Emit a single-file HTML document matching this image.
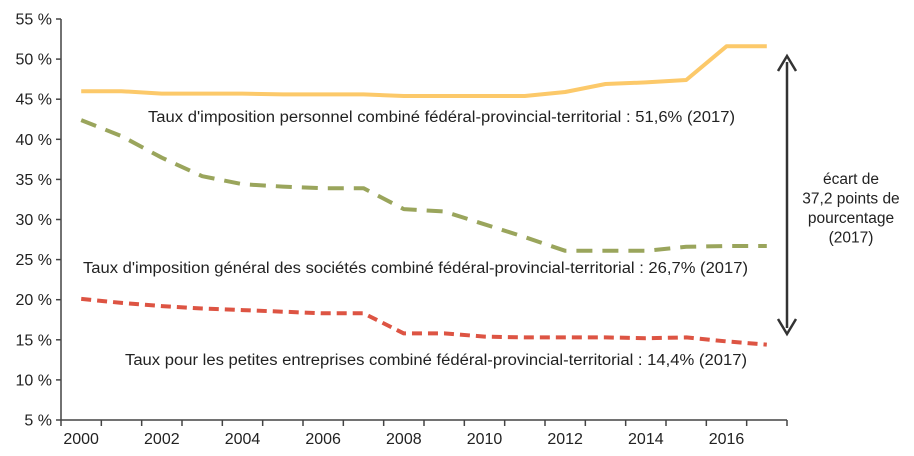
<!DOCTYPE html>
<html><head><meta charset="utf-8"><style>
html,body{margin:0;padding:0;background:#fff;}
svg{display:block;font-family:"Liberation Sans",Arial,sans-serif;}
</style></head><body>
<svg id="chart" width="914" height="456" viewBox="0 0 914 456"></svg>
<script>
const years=[2000,2001,2002,2003,2004,2005,2006,2007,2008,2009,2010,2011,2012,2013,2014,2015,2016,2017];
const personal=[46.0,46.0,45.7,45.7,45.7,45.6,45.6,45.6,45.4,45.4,45.4,45.4,45.9,46.9,47.1,47.4,51.6,51.6];
const corporate=[42.4,40.4,37.7,35.4,34.4,34.1,33.9,33.9,31.3,31.0,29.4,27.8,26.1,26.1,26.1,26.6,26.7,26.7];
const small=[20.1,19.6,19.2,18.9,18.7,18.5,18.3,18.3,15.8,15.8,15.4,15.3,15.3,15.3,15.2,15.3,14.8,14.4];
const yTicks=[5,10,15,20,25,30,35,40,45,50,55];
const xLabels=[2000,2002,2004,2006,2008,2010,2012,2014,2016];

const NS="http://www.w3.org/2000/svg";
const svg=document.getElementById('chart');
const x0=61,x1=787,y0=420,y1=19;
const band=(x1-x0)/years.length;
function xs(i){return x0+band*(i+0.5);}
function ys(v){return y0-(v-5)/(55-5)*(y0-y1);}
function mk(t,a){const e=document.createElementNS(NS,t);for(const k in a)e.setAttribute(k,a[k]);svg.appendChild(e);return e;}

let ax=mk('line',{x1:x0,y1:y1,x2:x0,y2:y0,stroke:'#444','stroke-width':1.5});


let bx=mk('line',{x1:x0,y1:y0,x2:x1,y2:y0,stroke:'#444','stroke-width':1.5});



yTicks.forEach(v=>{
  const y=ys(v);
  let t=mk('line',{x1:x0-5,y1:y,x2:x0,y2:y,stroke:'#444','stroke-width':1.5});
  
  
  let l=mk('text',{x:x0-9,y:y+5.5,'text-anchor':'end','font-size':16,fill:'#222'});
  l.textContent=v+' %';
  
  
});
for(let i=0;i<=years.length;i++){
  const x=x0+band*i;
  let t=mk('line',{x1:x,y1:y0,x2:x,y2:y0+6,stroke:'#444','stroke-width':1.5});
  
  
}
xLabels.forEach(yr=>{
  const i=years.indexOf(yr);
  let l=mk('text',{x:xs(i),y:y0+24,'text-anchor':'middle','font-size':16,fill:'#222'});
  l.textContent=yr;
  
  
});

function series(vals,color,dash,name){
  const d=vals.map((v,i)=>(i?'L':'M')+xs(i).toFixed(1)+','+ys(v).toFixed(1)).join(' ');
  const a={d:d,fill:'none',stroke:color,'stroke-width':4,'stroke-linejoin':'round'};
  if(dash)a['stroke-dasharray']=dash;
  let p=mk('path',a);
  
  
}
series(personal,'#fcc96a',null,'personal-rate-line');
series(corporate,'#9aa55c','16,10','corporate-rate-line');
series(small,'#dd5443','10,6','small-business-rate-line');

function label(txt,x,y,w,name){
  let l=mk('text',{x:x,y:y,'font-size':15.5,fill:'#222',textLength:w,lengthAdjust:'spacingAndGlyphs'});
  l.textContent=txt;
  
  
}
label("Taux d'imposition personnel combiné fédéral-provincial-territorial : 51,6% (2017)",148,122,587,'personal-rate-label');
label("Taux d'imposition général des sociétés combiné fédéral-provincial-territorial : 26,7% (2017)",83,273,665,'corporate-rate-label');
label("Taux pour les petites entreprises combiné fédéral-provincial-territorial : 14,4% (2017)",125,365,622,'small-business-rate-label');

let arr=mk('line',{x1:787,y1:62,x2:787,y2:328,stroke:'#333','stroke-width':2.5});


let h1=mk('path',{d:'M778,71 L787,56 L796,71',fill:'none',stroke:'#333','stroke-width':2.5});


let h2=mk('path',{d:'M778,319 L787,334 L796,319',fill:'none',stroke:'#333','stroke-width':2.5});


const gap=['écart de','37,2 points de','pourcentage','(2017)'];
gap.forEach((t,i)=>{
  let l=mk('text',{x:851,y:184+i*19.5,'text-anchor':'middle','font-size':15.5,fill:'#222'});
  l.textContent=t;
  
  
});
</script>
</body></html>
